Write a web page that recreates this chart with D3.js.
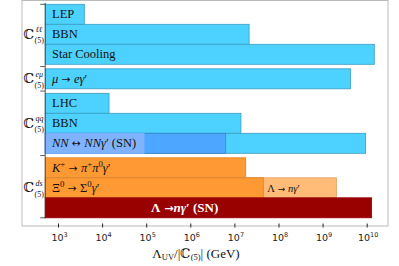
<!DOCTYPE html>
<html>
<head>
<meta charset="utf-8">
<script src="https://cdn.jsdelivr.net/npm/d3@7"></script>
<style>
  body { margin: 0; background: #fff; }
  svg { display: block; }
</style>
</head>
<body>
<div id="chart"></div>
<script>
// groups of operators (superscript of C_(5))
const groupNames = ["ℓℓ", "eμ", "qq", "ds"];

// one row per horizontal strip, with the group it belongs to
const rowGroup = [0, 0, 0, 1, 2, 2, 2, 3, 3, 3];

// bars: row index, upper bound on Lambda_UV/|C| in GeV, kind of bound
const barRow   = [0, 1, 2, 3, 4, 5, 6, 6, 6, 7, 8, 8, 9];
const barBound = [3.85e3, 2.1e7, 1.45e10, 4.2e9, 1.4e4, 1.37e7,
                  9.2e9, 6.2e6, 8.7e4, 1.76e7, 2.0e9, 4.4e7, 1.26e10];
const barKind  = ["lab", "lab", "lab", "lab", "lab", "lab",
                  "lab", "sn", "sn2", "meson", "hyperonLam", "hyperon", "snLam"];

const xTicks = [1e3, 1e4, 1e5, 1e6, 1e7, 1e8, 1e9, 1e10];

const width = 399, height = 266;
const frame = { left: 22, right: 388, top: 0.5, bottom: 226 };

const fill = {
  lab: "#4dd2ff", sn: "#4da6ff", sn2: "#80b3ff",
  meson: "#ff9933", hyperon: "#ff9933", hyperonLam: "#ffbb77", snLam: "#990000"
};
const stroke = {
  lab: "#3a9cc2", sn: "#3a85c8", sn2: "#80b3ff",
  meson: "#d98028", hyperon: "#d98028", hyperonLam: "#e0a060", snLam: "#990000"
};

const svg = d3.select("#chart").append("svg")
  .attr("width", width).attr("height", height);

const x = d3.scaleLog().domain([1e3, 1e10]).range([58.5, 367.2]);
const x0 = 500; // bars start here

const rowH = 20, gap = 4.5, top0 = 4.3;
function rowY(i) { return top0 + i * rowH + rowGroup[i] * gap; }

// frame
svg.append("rect")
  .attr("x", frame.left).attr("y", frame.top)
  .attr("width", frame.right - frame.left).attr("height", frame.bottom - frame.top)
  .attr("fill", "none").attr("stroke", "#bbb").attr("stroke-width", 1);

// bars
const bars = barRow.map((r, i) => ({ row: r, bound: barBound[i], kind: barKind[i] }));
svg.append("g").selectAll("rect").data(bars).join("rect")
  .attr("x", x(x0))
  .attr("y", d => rowY(d.row))
  .attr("width", d => x(d.bound) - x(x0))
  .attr("height", rowH)
  .attr("fill", d => fill[d.kind])
  .attr("stroke", d => stroke[d.kind])
  .attr("stroke-width", 0.8);

// inner y axis line and group ticks
const ax = svg.append("g").attr("stroke", "#333").attr("stroke-width", 0.8);
ax.append("line").attr("x1", x(x0)).attr("x2", x(x0))
  .attr("y1", 3).attr("y2", rowY(9) + rowH + 0.5);
const gTicks = [rowY(0)];
for (let i = 1; i < rowGroup.length; i++) {
  if (rowGroup[i] !== rowGroup[i - 1]) gTicks.push(rowY(i) - gap / 2);
}
gTicks.push(rowY(9) + rowH);
ax.selectAll("line.t").data(gTicks).join("line").attr("class", "t")
  .attr("x1", x(x0) - 5).attr("x2", x(x0)).attr("y1", d => d).attr("y2", d => d);

// bar labels
const serif = "'Liberation Serif', 'DejaVu Serif', serif";
const arrowFont = "'DejaVu Sans', sans-serif";
function label(row, xPos, parts, opts = {}) {
  const t = svg.append("text")
    .attr("x", xPos).attr("y", rowY(row) + rowH / 2 + 4)
    .attr("font-family", serif).attr("font-size", opts.size || 12.5)
    .attr("fill", opts.color || "#111")
    .attr("font-weight", opts.bold ? "bold" : null);
  parts.forEach(p => {
    const s = t.append("tspan").text(p[0]);
    if (p[1] === "i") s.attr("font-style", "italic");
    if (p[1] === "sup") s.attr("font-size", "70%").attr("baseline-shift", "super");
    if (p[1] === "arrow") s.attr("font-family", arrowFont).attr("font-size", "85%");
  });
  return t;
}
const lx = 52;
label(0, lx, [["LEP"]]);
label(1, lx, [["BBN"]]);
label(2, lx, [["Star Cooling"]]);
label(3, lx, [["μ", "i"], [" → ", "arrow"], ["eγ", "i"], ["′"]]);
label(4, lx, [["LHC"]]);
label(5, lx, [["BBN"]]);
label(6, lx, [["NN", "i"], [" ↔ ", "arrow"], ["NNγ", "i"], ["′ (SN)"]]);
label(7, lx, [["K", "i"], ["+", "sup"], [" → ", "arrow"], ["π", "i"], ["+", "sup"], ["π", "i"], ["0", "sup"], ["γ", "i"], ["′"]]);
label(8, lx, [["Ξ"], ["0", "sup"], [" → ", "arrow"], ["Σ"], ["0", "sup"], ["γ", "i"], ["′"]]);
label(8, x(4.4e7) + 4, [["Λ"], [" → ", "arrow"], ["nγ", "i"], ["′"]], { size: 10.5 });
label(9, 151, [["Λ"], [" →", "arrow"], ["nγ", "i"], ["′ (SN)"]], { color: "#fff", bold: true, size: 13 });

// group labels on the left
groupNames.forEach((g, gi) => {
  const rows = rowGroup.map((v, i) => v === gi ? i : -1).filter(i => i >= 0);
  const cy = (rowY(rows[0]) + rowY(rows[rows.length - 1]) + rowH) / 2;
  svg.append("text").attr("x", 23.5).attr("y", cy + 4.5)
    .attr("font-family", "'DejaVu Serif', serif").attr("font-size", 13.5).attr("fill", "#111")
    .text("ℂ");
  svg.append("text").attr("x", 35.5).attr("y", cy - 2)
    .attr("font-family", serif).attr("font-size", 8).attr("font-style", "italic")
    .attr("fill", "#111").text(g);
  svg.append("text").attr("x", 34.5).attr("y", cy + 9)
    .attr("font-family", serif).attr("font-size", 8).attr("fill", "#111").text("(5)");
});

// x axis
const xa = svg.append("g").attr("transform", `translate(0,${frame.bottom})`);
xa.selectAll("line").data(xTicks).join("line")
  .attr("x1", d => x(d)).attr("x2", d => x(d)).attr("y1", -2.5).attr("y2", 1.5)
  .attr("stroke", "#222").attr("stroke-width", 1);
xa.selectAll("text").data(xTicks).join("text")
  .attr("x", d => x(d) + 1).attr("y", 15)
  .attr("text-anchor", "middle")
  .attr("font-family", "'DejaVu Sans', sans-serif").attr("font-size", 9.5).attr("fill", "#222")
  .each(function (d) {
    const t = d3.select(this);
    t.append("tspan").text("10");
    t.append("tspan").attr("font-size", 6.5).attr("dy", -4).text(Math.round(Math.log10(d)));
  });

// x axis title
const xt = svg.append("text").attr("x", 196).attr("y", 258)
  .attr("text-anchor", "middle")
  .attr("font-family", serif).attr("font-size", 13).attr("fill", "#111");
xt.append("tspan").text("Λ");
xt.append("tspan").attr("font-size", 8.5).attr("dy", 2).text("UV");
xt.append("tspan").attr("dy", -2).text("/|ℂ");
xt.append("tspan").attr("font-size", 8.5).attr("dy", 2).text("(5)");
xt.append("tspan").attr("dy", -2).text("| (GeV)");
</script>
</body>
</html>
